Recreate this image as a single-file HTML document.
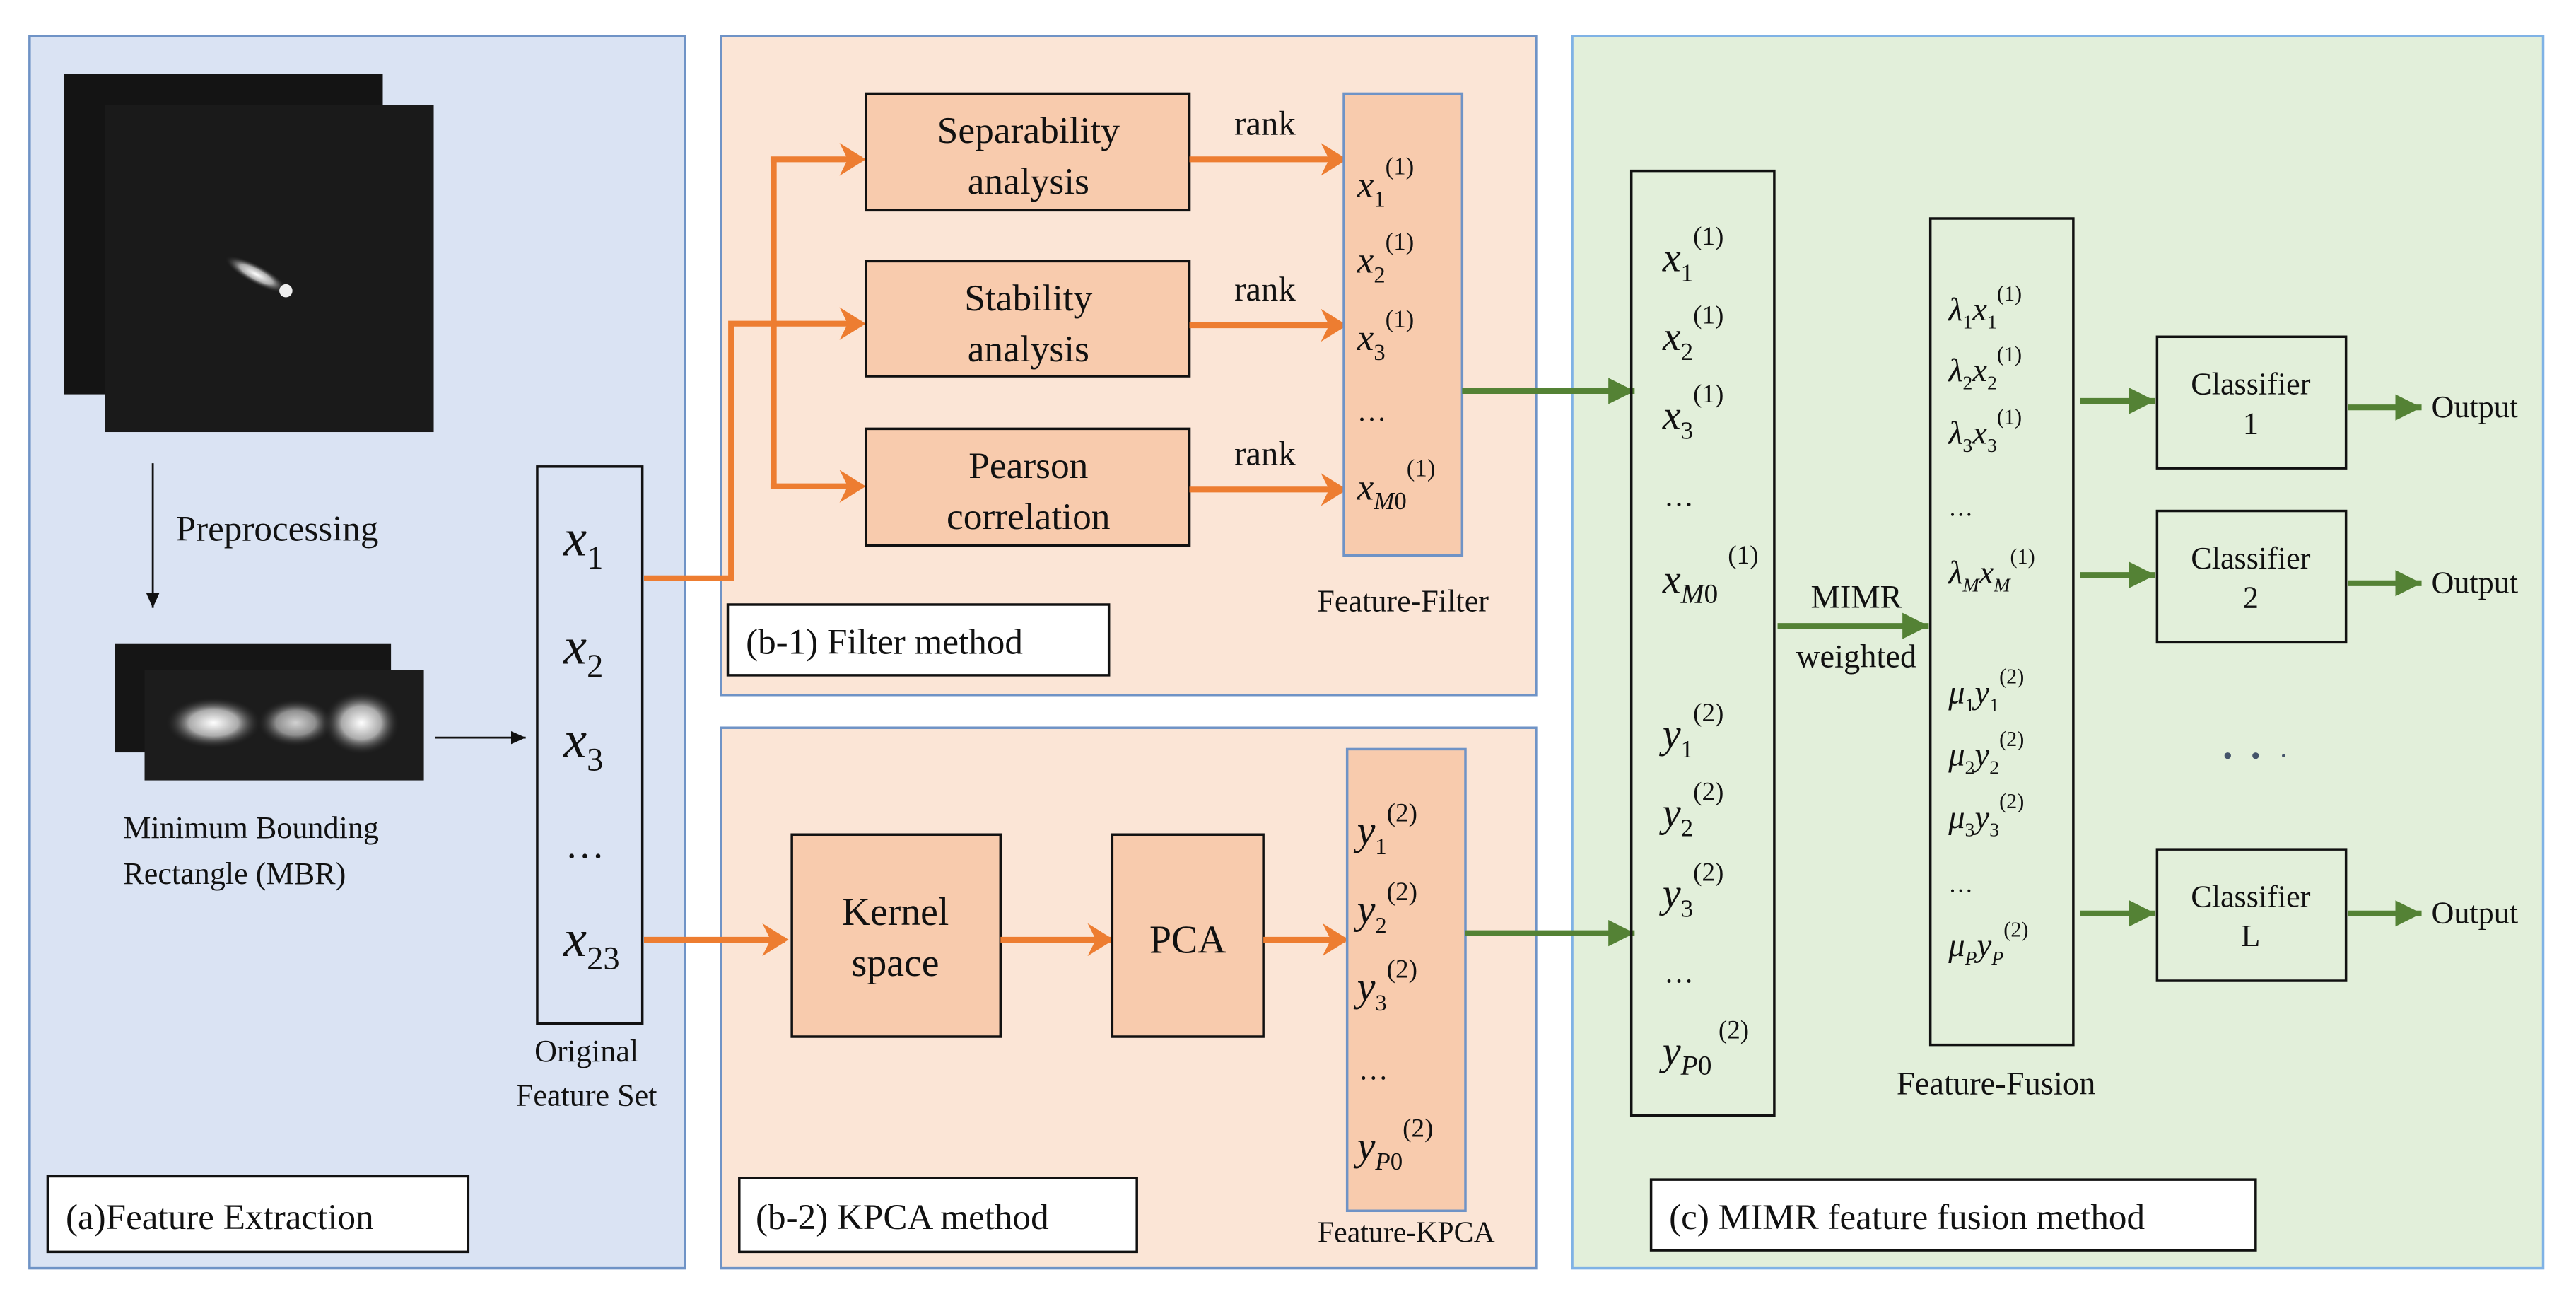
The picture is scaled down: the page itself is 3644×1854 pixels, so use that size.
<!DOCTYPE html>
<html><head><meta charset="utf-8"><style>
html,body{margin:0;padding:0;background:#fff}
svg{display:block}
svg text, svg tspan{font-family:"Liberation Serif","DejaVu Serif",serif}
text{fill:#111}
.it{font-style:italic}
</style></head><body>
<svg width="3644" height="1854" viewBox="0 0 1568 798" preserveAspectRatio="none" xmlns="http://www.w3.org/2000/svg" font-family="Liberation Serif, DejaVu Serif, serif">
<defs>
<marker id="aor" markerWidth="22" markerHeight="22" refX="18" refY="11" orient="auto" markerUnits="userSpaceOnUse"><path d="M4,1 L20,11 L4,21 L9,11 Z" fill="#ed7d31"/></marker>
<marker id="ag" markerWidth="18" markerHeight="18" refX="16" refY="9" orient="auto" markerUnits="userSpaceOnUse"><path d="M0,1 L16,9 L0,17 Z" fill="#548235"/></marker>
<marker id="ab" markerWidth="10" markerHeight="10" refX="9" refY="5" orient="auto" markerUnits="userSpaceOnUse"><path d="M0,1 L9,5 L0,9 Z" fill="#111"/></marker>
<radialGradient id="blob"><stop offset="0" stop-color="#fff"/><stop offset="0.5" stop-color="#aaa"/><stop offset="1" stop-color="#111" stop-opacity="0"/></radialGradient>
</defs>

<rect x="18" y="22" width="399" height="750" fill="#dae3f3" stroke="#6f93c6" stroke-width="1.5"/>
<rect x="439" y="22" width="496" height="401" fill="#fbe5d6" stroke="#6f93c6" stroke-width="1.5"/>
<rect x="439" y="443" width="496" height="329" fill="#fbe5d6" stroke="#6f93c6" stroke-width="1.5"/>
<rect x="957" y="22" width="591" height="750" fill="#e2efda" stroke="#7fb2e5" stroke-width="1.5"/>

<rect x="39" y="45" width="194" height="195" fill="#141414"/>
<rect x="64" y="64" width="200" height="199" fill="#1a1a1a"/>
<ellipse cx="156" cy="167" rx="22" ry="6" transform="rotate(28 156 167)" fill="url(#blob)"/>
<circle cx="174" cy="177" r="4" fill="#eee"/>
<line x1="93" y1="282" x2="93" y2="370" stroke="#111" stroke-width="1.2" marker-end="url(#ab)"/>
<text x="107" y="329" font-size="22">Preprocessing</text>
<rect x="70" y="392" width="168" height="66" fill="#151515"/>
<rect x="88" y="408" width="170" height="67" fill="#1c1c1c"/>
<ellipse cx="130" cy="440" rx="30" ry="16" fill="url(#blob)"/>
<ellipse cx="180" cy="440" rx="24" ry="15" fill="url(#blob)" opacity="0.8"/>
<ellipse cx="220" cy="440" rx="24" ry="20" fill="url(#blob)"/>
<line x1="265" y1="449" x2="320" y2="449" stroke="#111" stroke-width="1.2" marker-end="url(#ab)"/>
<text x="75" y="510" font-size="19">Minimum Bounding</text>
<text x="75" y="538" font-size="19">Rectangle (MBR)</text>
<rect x="327" y="284" width="64" height="339" fill="none" stroke="#111" stroke-width="1.5"/>
<g font-size="32">
<text x="343" y="338" class="it">x<tspan font-size="20" dy="8" font-style="normal">1</tspan></text>
<text x="343" y="404" class="it">x<tspan font-size="20" dy="8" font-style="normal">2</tspan></text>
<text x="343" y="461" class="it">x<tspan font-size="20" dy="8" font-style="normal">3</tspan></text>
<text x="344" y="522" font-size="24">…</text>
<text x="343" y="582" class="it">x<tspan font-size="20" dy="8" font-style="normal">23</tspan></text>
</g>
<text x="357" y="646" font-size="19" text-anchor="middle">Original</text>
<text x="357" y="673" font-size="19" text-anchor="middle">Feature Set</text>
<rect x="29" y="716" width="256" height="46" fill="#fff" stroke="#111" stroke-width="1.5"/>
<text x="40" y="748" font-size="22">(a)Feature Extraction</text>

<polyline points="392,352 445,352 445,197 525,197" fill="none" stroke="#ed7d31" stroke-width="3.5" marker-end="url(#aor)"/>
<line x1="471" y1="97" x2="471" y2="296" stroke="#ed7d31" stroke-width="3.5"/>
<line x1="469" y1="97" x2="525" y2="97" stroke="#ed7d31" stroke-width="3.5" marker-end="url(#aor)"/>
<line x1="469" y1="296" x2="525" y2="296" stroke="#ed7d31" stroke-width="3.5" marker-end="url(#aor)"/>
<g fill="#f8cbad" stroke="#111" stroke-width="1.5">
<rect x="527" y="57" width="197" height="71"/>
<rect x="527" y="159" width="197" height="70"/>
<rect x="527" y="261" width="197" height="71"/>
</g>
<g font-size="23" text-anchor="middle">
<text x="626" y="87">Separability</text><text x="626" y="118">analysis</text>
<text x="626" y="189">Stability</text><text x="626" y="220">analysis</text>
<text x="626" y="291">Pearson</text><text x="626" y="322">correlation</text>
</g>
<g font-size="21" text-anchor="middle"><text x="770" y="82">rank</text><text x="770" y="183">rank</text><text x="770" y="283">rank</text></g>
<line x1="724" y1="97" x2="818" y2="97" stroke="#ed7d31" stroke-width="3.5" marker-end="url(#aor)"/>
<line x1="724" y1="198" x2="818" y2="198" stroke="#ed7d31" stroke-width="3.5" marker-end="url(#aor)"/>
<line x1="724" y1="298" x2="818" y2="298" stroke="#ed7d31" stroke-width="3.5" marker-end="url(#aor)"/>
<rect x="818" y="57" width="72" height="281" fill="#f8cbad" stroke="#6f93c6" stroke-width="1.5"/>
<g font-size="23">
<text x="826" y="120" class="it">x<tspan font-size="14" dy="6" font-style="normal">1</tspan><tspan font-size="15" dy="-20" font-style="normal">(1)</tspan></text>
<text x="826" y="166" class="it">x<tspan font-size="14" dy="6" font-style="normal">2</tspan><tspan font-size="15" dy="-20" font-style="normal">(1)</tspan></text>
<text x="826" y="213" class="it">x<tspan font-size="14" dy="6" font-style="normal">3</tspan><tspan font-size="15" dy="-20" font-style="normal">(1)</tspan></text>
<text x="826" y="256" font-size="18">…</text>
<text x="826" y="304" class="it">x<tspan font-size="15" dy="6">M</tspan><tspan font-size="15" font-style="normal">0</tspan><tspan font-size="15" dy="-20" font-style="normal">(1)</tspan></text>
</g>
<text x="854" y="372" font-size="19" text-anchor="middle">Feature-Filter</text>
<rect x="443" y="368" width="232" height="43" fill="#fff" stroke="#111" stroke-width="1.5"/>
<text x="454" y="398" font-size="22">(b-1) Filter method</text>

<line x1="392" y1="572" x2="478" y2="572" stroke="#ed7d31" stroke-width="3.5" marker-end="url(#aor)"/>
<rect x="482" y="508" width="127" height="123" fill="#f8cbad" stroke="#111" stroke-width="1.5"/>
<line x1="609" y1="572" x2="676" y2="572" stroke="#ed7d31" stroke-width="3.5" marker-end="url(#aor)"/>
<rect x="677" y="508" width="92" height="123" fill="#f8cbad" stroke="#111" stroke-width="1.5"/>
<line x1="769" y1="572" x2="819" y2="572" stroke="#ed7d31" stroke-width="3.5" marker-end="url(#aor)"/>
<g font-size="24" text-anchor="middle"><text x="545" y="563">Kernel</text><text x="545" y="594">space</text><text x="723" y="580">PCA</text></g>
<rect x="820" y="456" width="72" height="281" fill="#f8cbad" stroke="#6f93c6" stroke-width="1.5"/>
<g font-size="25">
<text x="826" y="514" class="it">y<tspan font-size="14" dy="6" font-style="normal">1</tspan><tspan font-size="16" dy="-20" font-style="normal">(2)</tspan></text>
<text x="826" y="562" class="it">y<tspan font-size="14" dy="6" font-style="normal">2</tspan><tspan font-size="16" dy="-20" font-style="normal">(2)</tspan></text>
<text x="826" y="609" class="it">y<tspan font-size="14" dy="6" font-style="normal">3</tspan><tspan font-size="16" dy="-20" font-style="normal">(2)</tspan></text>
<text x="827" y="657" font-size="18">…</text>
<text x="826" y="706" class="it">y<tspan font-size="15" dy="6">P</tspan><tspan font-size="15" font-style="normal">0</tspan><tspan font-size="16" dy="-20" font-style="normal">(2)</tspan></text>
</g>
<text x="856" y="756" font-size="18" text-anchor="middle">Feature-KPCA</text>
<rect x="450" y="717" width="242" height="45" fill="#fff" stroke="#111" stroke-width="1.5"/>
<text x="460" y="748" font-size="22">(b-2) KPCA method</text>

<line x1="890" y1="238" x2="995" y2="238" stroke="#548235" stroke-width="3.5" marker-end="url(#ag)"/>
<line x1="892" y1="568" x2="995" y2="568" stroke="#548235" stroke-width="3.5" marker-end="url(#ag)"/>
<rect x="993" y="104" width="87" height="575" fill="none" stroke="#111" stroke-width="1.5"/>
<g font-size="25">
<text x="1012" y="165" class="it">x<tspan font-size="15" dy="6" font-style="normal">1</tspan><tspan font-size="16" dy="-22" font-style="normal">(1)</tspan></text>
<text x="1012" y="213" class="it">x<tspan font-size="15" dy="6" font-style="normal">2</tspan><tspan font-size="16" dy="-22" font-style="normal">(1)</tspan></text>
<text x="1012" y="261" class="it">x<tspan font-size="15" dy="6" font-style="normal">3</tspan><tspan font-size="16" dy="-22" font-style="normal">(1)</tspan></text>
<text x="1013" y="308" font-size="18">…</text>
<text x="1012" y="361" class="it">x<tspan font-size="17" dy="6">M</tspan><tspan font-size="17" font-style="normal">0</tspan><tspan font-size="16" dy="-24" dx="6" font-style="normal">(1)</tspan></text>
<text x="1012" y="455" class="it">y<tspan font-size="15" dy="6" font-style="normal">1</tspan><tspan font-size="16" dy="-22" font-style="normal">(2)</tspan></text>
<text x="1012" y="503" class="it">y<tspan font-size="15" dy="6" font-style="normal">2</tspan><tspan font-size="16" dy="-22" font-style="normal">(2)</tspan></text>
<text x="1012" y="552" class="it">y<tspan font-size="15" dy="6" font-style="normal">3</tspan><tspan font-size="16" dy="-22" font-style="normal">(2)</tspan></text>
<text x="1013" y="598" font-size="18">…</text>
<text x="1012" y="648" class="it">y<tspan font-size="17" dy="6">P</tspan><tspan font-size="17" font-style="normal">0</tspan><tspan font-size="16" dy="-22" dx="4" font-style="normal">(2)</tspan></text>
</g>
<text x="1130" y="370" font-size="20" text-anchor="middle">MIMR</text>
<line x1="1082" y1="381" x2="1174" y2="381" stroke="#548235" stroke-width="3.5" marker-end="url(#ag)"/>
<text x="1130" y="406" font-size="20" text-anchor="middle">weighted</text>
<rect x="1175" y="133" width="87" height="503" fill="none" stroke="#111" stroke-width="1.5"/>
<g font-size="20">
<text x="1186" y="195" class="it">λ<tspan font-size="12" dy="5" font-style="normal">1</tspan><tspan dy="-5">x</tspan><tspan font-size="12" dy="5" font-style="normal">1</tspan><tspan font-size="13" dy="-17" font-style="normal">(1)</tspan></text>
<text x="1186" y="232" class="it">λ<tspan font-size="12" dy="5" font-style="normal">2</tspan><tspan dy="-5">x</tspan><tspan font-size="12" dy="5" font-style="normal">2</tspan><tspan font-size="13" dy="-17" font-style="normal">(1)</tspan></text>
<text x="1186" y="270" class="it">λ<tspan font-size="12" dy="5" font-style="normal">3</tspan><tspan dy="-5">x</tspan><tspan font-size="12" dy="5" font-style="normal">3</tspan><tspan font-size="13" dy="-17" font-style="normal">(1)</tspan></text>
<text x="1186" y="314" font-size="15">…</text>
<text x="1186" y="355" class="it">λ<tspan font-size="12" dy="5">M</tspan><tspan dy="-5">x</tspan><tspan font-size="12" dy="5">M</tspan><tspan font-size="13" dy="-17" font-style="normal">(1)</tspan></text>
<text x="1186" y="428" class="it">μ<tspan font-size="12" dy="5" font-style="normal">1</tspan><tspan dy="-5">y</tspan><tspan font-size="12" dy="5" font-style="normal">1</tspan><tspan font-size="13" dy="-17" font-style="normal">(2)</tspan></text>
<text x="1186" y="466" class="it">μ<tspan font-size="12" dy="5" font-style="normal">2</tspan><tspan dy="-5">y</tspan><tspan font-size="12" dy="5" font-style="normal">2</tspan><tspan font-size="13" dy="-17" font-style="normal">(2)</tspan></text>
<text x="1186" y="504" class="it">μ<tspan font-size="12" dy="5" font-style="normal">3</tspan><tspan dy="-5">y</tspan><tspan font-size="12" dy="5" font-style="normal">3</tspan><tspan font-size="13" dy="-17" font-style="normal">(2)</tspan></text>
<text x="1186" y="543" font-size="15">…</text>
<text x="1186" y="582" class="it">μ<tspan font-size="12" dy="5">P</tspan><tspan dy="-5">y</tspan><tspan font-size="12" dy="5">P</tspan><tspan font-size="13" dy="-17" font-style="normal">(2)</tspan></text>
</g>
<text x="1215" y="666" font-size="20" text-anchor="middle">Feature-Fusion</text>
<g stroke="#548235" stroke-width="3.5">
<line x1="1266" y1="244" x2="1312" y2="244" marker-end="url(#ag)"/>
<line x1="1266" y1="350" x2="1312" y2="350" marker-end="url(#ag)"/>
<line x1="1266" y1="556" x2="1312" y2="556" marker-end="url(#ag)"/>
<line x1="1429" y1="248" x2="1474" y2="248" marker-end="url(#ag)"/>
<line x1="1429" y1="355" x2="1474" y2="355" marker-end="url(#ag)"/>
<line x1="1429" y1="556" x2="1474" y2="556" marker-end="url(#ag)"/>
</g>
<g fill="none" stroke="#111" stroke-width="1.5">
<rect x="1313" y="205" width="115" height="80"/>
<rect x="1313" y="311" width="115" height="80"/>
<rect x="1313" y="517" width="115" height="80"/>
</g>
<g font-size="19" text-anchor="middle">
<text x="1370" y="240">Classifier</text><text x="1370" y="264">1</text>
<text x="1370" y="346">Classifier</text><text x="1370" y="370">2</text>
<text x="1370" y="552">Classifier</text><text x="1370" y="576">L</text>
</g>
<g font-size="19"><text x="1480" y="254">Output</text><text x="1480" y="361">Output</text><text x="1480" y="562">Output</text></g>
<g fill="#44546a"><circle cx="1356" cy="460" r="2"/><circle cx="1373" cy="460" r="2"/><circle cx="1390" cy="460" r="1"/></g>
<rect x="1005" y="718" width="368" height="43" fill="#fff" stroke="#111" stroke-width="1.5"/>
<text x="1016" y="748" font-size="22">(c) MIMR feature fusion method</text>
</svg>
</body></html>
